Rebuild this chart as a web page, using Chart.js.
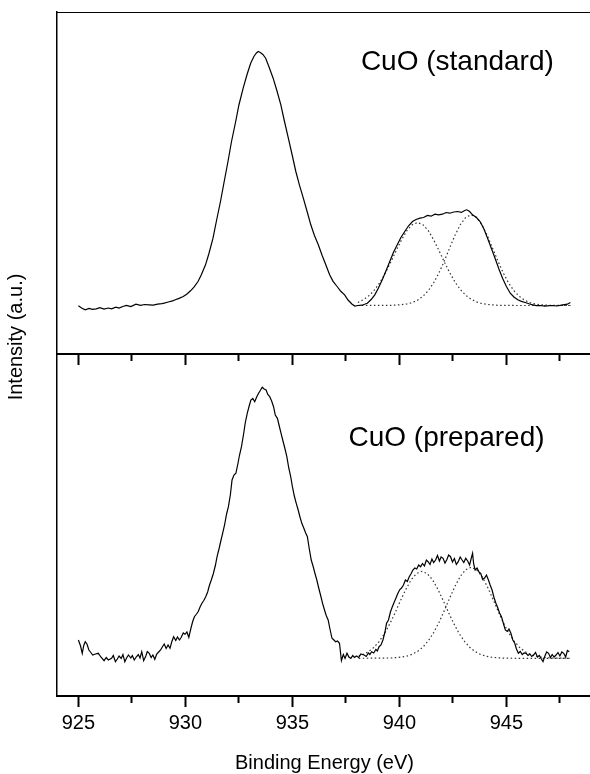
<!DOCTYPE html>
<html>
<head>
<meta charset="utf-8">
<script src="https://cdn.jsdelivr.net/npm/chart.js@4.4.1/dist/chart.umd.min.js"></script>
<style>
  html, body { margin: 0; padding: 0; background: #fff; overflow: hidden; }
  #wrap { position: relative; width: 590px; height: 774px; overflow: hidden; }
  canvas { position: absolute; left: 0; top: 0; }
  #ytitle {
    position: absolute; left: -84px; top: 325px; width: 200px; height: 24px;
    line-height: 24px; text-align: center; color: #000;
    font: 20px "Liberation Sans", Arial, Helvetica, sans-serif;
    transform: rotate(-90deg);
  }
</style>
</head>
<body>
<div id="wrap">
  <canvas id="topChart" width="592" height="774"></canvas>
  <canvas id="bottomChart" width="592" height="774"></canvas>
  <div id="ytitle">Intensity (a.u.)</div>
</div>
<script>
// binding energy axis (eV)
const xMin = 924, xMax = 949;
const majorTicks = [925, 930, 935, 940, 945];
const minorTicks = [927.5, 932.5, 937.5, 942.5, 947.5];

// CuO (standard) - measured spectrum
const stdE = [925.00, 925.15, 925.32, 925.50, 925.65, 925.84, 926.00, 926.20, 926.40, 926.55, 926.75, 926.90,
  927.07, 927.25, 927.45, 927.69, 927.90, 928.10, 928.30, 928.50, 928.70, 928.90, 929.01, 929.20, 929.40, 929.53,
  929.70, 929.90, 930.06, 930.24, 930.40, 930.59, 930.75, 930.94, 931.10, 931.29, 931.45, 931.64, 931.80, 931.99,
  932.15, 932.35, 932.50, 932.70, 932.88, 933.05, 933.20, 933.32, 933.40, 933.50, 933.62, 933.75, 933.90, 934.10,
  934.28, 934.46, 934.62, 934.81, 935.00, 935.16, 935.33, 935.51, 935.70, 935.86, 936.03, 936.21, 936.40, 936.56,
  936.74, 936.90, 937.09, 937.25, 937.44, 937.60, 937.79, 937.92, 938.06, 938.25, 938.50, 938.68, 938.85, 939.02,
  939.20, 939.38, 939.55, 939.72, 939.90, 940.07, 940.25, 940.42, 940.61, 940.78, 940.96, 941.13, 941.31, 941.48,
  941.66, 941.83, 942.01, 942.18, 942.36, 942.54, 942.72, 942.90, 943.05, 943.15, 943.28, 943.42, 943.60, 943.77,
  943.95, 944.12, 944.30, 944.47, 944.65, 944.82, 945.00, 945.18, 945.35, 945.53, 945.70, 945.88, 946.05, 946.23,
  946.40, 946.58, 946.80, 947.11, 947.35, 947.64, 947.85, 947.99];
const stdI = [48.2, 46.0, 44.2, 45.5, 44.6, 45.2, 46.3, 44.9, 46.0, 45.2, 46.8, 45.9,
  47.5, 48.6, 47.4, 49.8, 48.6, 49.5, 49.2, 48.8, 49.9, 50.4, 50.8, 52.0, 53.1, 54.2,
  55.6, 57.5, 59.8, 63.2, 66.8, 72.5, 79.5, 89.2, 100.5, 115.8, 133.0, 152.5, 171.0, 192.5,
  212.0, 232.5, 249.0, 265.8, 279.5, 290.8, 297.5, 301.0, 302.5, 301.5, 299.6, 295.8, 287.5, 275.8,
  263.0, 249.2, 233.5, 215.8, 198.0, 182.5, 168.8, 155.8, 141.5, 129.2, 118.5, 109.2, 98.0, 89.2,
  79.2, 72.6, 67.5, 63.0, 59.2, 54.0, 49.8, 48.0, 48.5, 48.8, 50.8, 54.5, 59.2, 66.0,
  74.2, 83.5, 92.5, 101.5, 109.2, 116.5, 122.5, 128.0, 132.5, 134.5, 135.8, 136.5, 138.5, 137.8,
  139.8, 139.2, 139.8, 141.5, 140.8, 142.0, 142.5, 141.6, 143.5, 144.2, 142.5, 139.2, 136.5, 132.5,
  125.0, 115.8, 105.5, 95.8, 85.0, 75.8, 67.5, 60.8, 57.0, 54.2, 52.6, 51.5, 50.2, 49.2,
  48.3, 48.5, 47.9, 48.5, 48.0, 49.2, 49.8, 51.5];

// CuO (standard) - fitted satellite components
const stdFit1E = [938.06, 938.35, 938.6, 938.85, 939.1, 939.35, 939.6, 939.85, 940.1, 940.35, 940.6, 940.85,
  941.1, 941.35, 941.6, 941.85, 942.1, 942.35, 942.6, 942.85, 943.1, 943.35, 943.6, 943.85, 944.1, 944.6, 945.5, 948.0];
const stdFit1I = [51.5, 54.8, 58.7, 64.4, 71.9, 81.3, 92.0, 103.4, 114.2, 123.4, 129.3, 131.5,
  129.3, 123.4, 114.2, 103.4, 92.0, 81.3, 71.9, 64.4, 58.7, 54.8, 52.1, 50.5, 49.6, 48.7, 48.5, 48.5];
const stdFit2E = [938.06, 939.6, 940.1, 940.35, 940.6, 940.85, 941.1, 941.35, 941.6, 941.85, 942.1, 942.35,
  942.6, 942.85, 943.1, 943.35, 943.6, 943.85, 944.1, 944.35, 944.6, 944.85, 945.1, 945.35, 945.6, 945.85,
  946.1, 946.35, 946.6, 947.1, 948.0];
const stdFit2I = [48.5, 48.6, 49.3, 50.0, 51.4, 53.8, 57.7, 63.3, 71.1, 81.2, 93.1, 106.1,
  118.8, 129.5, 136.7, 139.2, 136.7, 129.5, 118.8, 106.1, 93.1, 81.2, 71.1, 63.3, 57.7, 53.8,
  51.4, 50.0, 49.3, 48.6, 48.5];

// CuO (prepared) - measured spectrum
const prepE = [925.00, 925.10, 925.18, 925.25, 925.32, 925.40, 925.49, 925.58, 925.67, 925.80, 925.93, 926.05,
  926.20, 926.30, 926.40, 926.55, 926.63, 926.73, 926.82, 926.90, 927.00, 927.08, 927.17, 927.25, 927.34, 927.45,
  927.52, 927.61, 927.70, 927.80, 927.88, 927.96, 928.05, 928.15, 928.22, 928.31, 928.40, 928.48, 928.57, 928.66,
  928.75, 928.84, 928.92, 929.01, 929.10, 929.19, 929.28, 929.36, 929.45, 929.55, 929.63, 929.72, 929.80, 929.90,
  929.98, 930.07, 930.16, 930.25, 930.34, 930.42, 930.52, 930.60, 930.69, 930.78, 930.86, 930.95, 931.04, 931.12,
  931.21, 931.30, 931.40, 931.48, 931.57, 931.66, 931.74, 931.83, 931.92, 932.01, 932.10, 932.18, 932.27, 932.36,
  932.45, 932.53, 932.62, 932.72, 932.80, 932.89, 932.98, 933.06, 933.15, 933.24, 933.33, 933.42, 933.50, 933.59,
  933.68, 933.77, 933.85, 933.94, 934.03, 934.12, 934.20, 934.30, 934.38, 934.47, 934.56, 934.65, 934.74, 934.83,
  934.92, 935.00, 935.09, 935.18, 935.27, 935.36, 935.44, 935.53, 935.62, 935.70, 935.79, 935.88, 935.97, 936.05,
  936.14, 936.23, 936.32, 936.41, 936.50, 936.58, 936.67, 936.76, 936.85, 936.94, 937.02, 937.11, 937.20, 937.29,
  937.38, 937.46, 937.55, 937.64, 937.73, 937.82, 937.90, 937.99, 938.10, 938.20, 938.35, 938.45, 938.55, 938.62,
  938.70, 938.80, 938.90, 938.97, 939.05, 939.14, 939.23, 939.32, 939.40, 939.49, 939.58, 939.67, 939.76, 939.84,
  939.93, 940.02, 940.10, 940.19, 940.28, 940.37, 940.46, 940.55, 940.63, 940.72, 940.81, 940.90, 940.99, 941.08,
  941.17, 941.26, 941.34, 941.43, 941.52, 941.60, 941.69, 941.78, 941.87, 941.95, 942.04, 942.13, 942.22, 942.30,
  942.39, 942.48, 942.57, 942.66, 942.75, 942.84, 942.93, 943.01, 943.10, 943.19, 943.28, 943.36, 943.42, 943.47,
  943.54, 943.63, 943.72, 943.80, 943.89, 943.98, 944.07, 944.16, 944.24, 944.33, 944.42, 944.51, 944.60, 944.68,
  944.77, 944.86, 944.95, 945.04, 945.12, 945.21, 945.30, 945.39, 945.47, 945.56, 945.65, 945.74, 945.83, 945.92,
  946.01, 946.10, 946.18, 946.27, 946.36, 946.45, 946.54, 946.62, 946.71, 946.80, 946.88, 946.97, 947.06, 947.14,
  947.23, 947.32, 947.41, 947.50, 947.59, 947.68, 947.77, 947.85, 947.94];
const prepI = [56.0, 50.0, 42.7, 50.5, 54.3, 52.0, 46.0, 43.5, 41.0, 42.0, 42.7, 39.0,
  35.3, 38.5, 36.0, 37.7, 40.5, 34.3, 37.0, 40.0, 37.5, 41.5, 34.3, 38.0, 41.0, 38.0,
  40.5, 36.0, 39.0, 41.5, 38.0, 44.3, 35.3, 40.0, 44.5, 42.7, 38.5, 41.0, 36.7, 42.0,
  44.0, 46.0, 49.0, 52.0, 47.5, 51.0, 47.7, 54.0, 59.3, 55.5, 59.0, 56.0, 58.5, 63.0,
  61.7, 64.0, 58.7, 67.0, 74.5, 79.3, 82.0, 84.5, 89.3, 93.0, 95.5, 99.3, 104.0, 110.5,
  116.0, 122.0, 130.5, 139.3, 147.0, 155.5, 162.7, 171.0, 181.5, 189.3, 201.0, 216.0, 221.0, 222.7,
  232.0, 241.0, 249.3, 262.0, 273.5, 282.7, 290.0, 296.0, 297.5, 294.3, 299.0, 302.7, 305.5, 308.7,
  307.0, 306.0, 301.5, 299.3, 295.0, 289.3, 281.0, 277.7, 270.5, 262.7, 255.0, 247.5, 239.3, 228.0,
  219.5, 209.3, 200.0, 192.7, 186.0, 178.5, 172.7, 168.0, 163.0, 159.3, 147.0, 136.0, 129.5, 123.0,
  116.0, 108.0, 100.5, 92.7, 86.0, 80.5, 76.0, 66.5, 57.7, 56.0, 54.3, 55.0, 52.7, 35.3,
  41.5, 37.5, 42.7, 39.0, 37.7, 40.5, 38.5, 40.0, 38.5, 42.0, 41.0, 39.5, 43.0, 41.5,
  44.3, 43.0, 46.5, 45.0, 49.3, 51.0, 56.0, 63.5, 72.7, 76.0, 84.0, 89.3, 94.0, 98.0,
  102.7, 106.5, 108.0, 111.0, 116.0, 114.5, 119.3, 122.5, 126.0, 128.0, 127.0, 131.0, 129.3, 132.5,
  130.0, 136.0, 134.3, 131.5, 137.0, 133.5, 136.0, 140.5, 135.0, 139.0, 137.7, 133.0, 136.5, 141.0,
  139.3, 134.0, 137.5, 131.5, 134.3, 139.0, 136.0, 133.5, 137.7, 135.0, 131.0, 138.0, 142.7, 132.0,
  126.0, 128.0, 124.0, 122.7, 116.5, 118.0, 121.0, 116.0, 111.0, 106.0, 98.5, 92.7, 88.0, 83.0,
  79.3, 72.5, 66.0, 64.5, 67.0, 62.7, 56.0, 52.7, 47.0, 42.7, 44.5, 41.5, 43.0, 42.7,
  40.5, 42.0, 39.5, 41.0, 43.5, 39.0, 40.5, 37.5, 34.3, 40.0, 44.0, 42.7, 38.5, 41.5,
  39.0, 41.0, 43.5, 40.0, 44.0, 42.7, 39.0, 45.5, 44.3];

// CuO (prepared) - fitted satellite components
const prepFit1E = [938.1, 938.3, 938.55, 938.8, 939.05, 939.3, 939.55, 939.8, 940.05, 940.3, 940.55, 940.8,
  941.05, 941.3, 941.55, 941.8, 942.05, 942.3, 942.55, 942.8, 943.05, 943.3, 943.55, 943.8, 944.05, 944.3,
  944.8, 945.5, 948.0];
const prepFit1I = [40.1, 41.5, 44.3, 48.4, 54.4, 62.2, 72.1, 83.3, 95.3, 106.6, 116.2, 122.4,
  124.7, 122.4, 116.2, 106.6, 95.3, 83.3, 72.1, 62.2, 54.4, 48.4, 44.3, 41.5, 39.8, 38.8,
  37.9, 37.7, 37.7];
const prepFit2E = [938.1, 939.6, 940.1, 940.35, 940.6, 940.85, 941.1, 941.35, 941.6, 941.85, 942.1, 942.35,
  942.6, 942.85, 943.1, 943.35, 943.6, 943.85, 944.1, 944.35, 944.6, 944.85, 945.1, 945.35, 945.6, 945.85,
  946.1, 946.35, 946.6, 947.1, 948.0];
const prepFit2I = [37.7, 38.0, 38.9, 39.9, 41.7, 44.6, 48.9, 55.2, 63.4, 73.6, 85.4, 97.9,
  109.8, 119.8, 126.3, 128.7, 126.3, 119.8, 109.8, 97.9, 85.4, 73.6, 63.4, 55.2, 48.9, 44.6,
  41.7, 39.9, 38.9, 38.0, 37.7];

const FONT = '"Liberation Sans", Arial, Helvetica, sans-serif';
Chart.defaults.font.family = FONT;
Chart.defaults.color = '#000';

const pts = (xs, ys) => xs.map((x, i) => ({ x: x, y: ys[i] }));

function spectrum(xs, ys) {
  return { data: pts(xs, ys), borderColor: '#000', borderWidth: 1.2, pointRadius: 0, tension: 0,
           xAxisID: 'x', yAxisID: 'y' };
}
function component(xs, ys) {
  return { data: pts(xs, ys), borderColor: '#333', borderWidth: 1.2, borderDash: [1.5, 2.5],
           pointRadius: 0, tension: 0, xAxisID: 'x', yAxisID: 'y' };
}

// draws the sample name inside a panel
const panelLabel = {
  id: 'panelLabel',
  afterDatasetsDraw(chart, args, opts) {
    const ctx = chart.ctx;
    ctx.save();
    ctx.font = '28px ' + FONT;
    ctx.fillStyle = '#000';
    ctx.textBaseline = 'middle';
    ctx.fillText(opts.text, chart.scales.x.getPixelForValue(opts.x), chart.scales.y.getPixelForValue(opts.y));
    ctx.restore();
  }
};

const setTicks = list => scale => { scale.ticks = list.map(v => ({ value: v })); };

function panelScales(showLabels) {
  const scales = {
    x: {
      type: 'linear', position: 'bottom', min: xMin, max: xMax, weight: 1,
      afterBuildTicks: setTicks(majorTicks),
      ticks: { display: showLabels, font: { size: 20 }, padding: 4, maxRotation: 0, autoSkip: false,
               callback: v => String(v) },
      grid: { drawOnChartArea: false, tickLength: 11, tickWidth: 2, tickColor: '#000' },
      border: { color: '#000', width: 2 },
      title: { display: showLabels, text: 'Binding Energy (eV)', font: { size: 20 },
               padding: { top: 0, bottom: -1 } },
      afterFit: s => { s.height = showLabels ? 78 : 420; }
    },
    xMinor: {
      type: 'linear', axis: 'x', position: 'bottom', min: xMin, max: xMax, weight: 0,
      afterBuildTicks: setTicks(minorTicks),
      ticks: { display: false },
      grid: { drawOnChartArea: false, tickLength: 7, tickWidth: 2, tickColor: '#000' },
      border: { display: false },
      afterFit: s => { s.height = 0; }
    },
    y: {
      type: 'linear', min: 0, max: 342,
      ticks: { display: false },
      grid: { display: false },
      border: { color: '#000', width: 1.5 },
      afterFit: s => { s.width = 0; }
    }
  };
  if (!showLabels) {
    scales.xTop = {
      type: 'linear', axis: 'x', position: 'top', min: xMin, max: xMax,
      ticks: { display: false },
      grid: { display: false },
      border: { color: '#000', width: 1 },
      afterFit: s => { s.height = 0; }
    };
  }
  return scales;
}

function panelOptions(top, showLabels, label) {
  return {
    responsive: false,
    animation: false,
    devicePixelRatio: 1,
    layout: { padding: { top: top, left: 57, right: 0, bottom: 0 } },
    plugins: { legend: { display: false }, tooltip: { enabled: false }, panelLabel: label },
    scales: panelScales(showLabels)
  };
}

new Chart(document.getElementById('topChart'), {
  type: 'line',
  data: { datasets: [spectrum(stdE, stdI), component(stdFit1E, stdFit1I), component(stdFit2E, stdFit2I)] },
  options: panelOptions(12, false, { text: 'CuO (standard)', x: 938.2, y: 291.3 }),
  plugins: [panelLabel]
});

new Chart(document.getElementById('bottomChart'), {
  type: 'line',
  data: { datasets: [spectrum(prepE, prepI), component(prepFit1E, prepFit1I), component(prepFit2E, prepFit2I)] },
  options: panelOptions(354, true, { text: 'CuO (prepared)', x: 937.62, y: 258 }),
  plugins: [panelLabel]
});
</script>
</body>
</html>
